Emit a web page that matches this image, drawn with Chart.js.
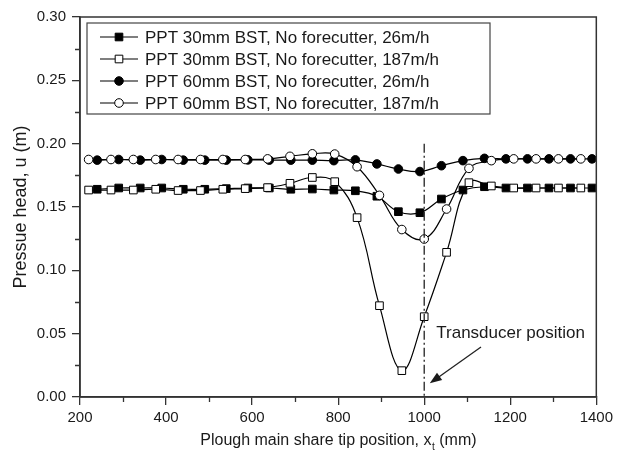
<!DOCTYPE html>
<html>
<head>
<meta charset="utf-8">
<title>Pressure head vs share tip position</title>
<script src="https://cdn.jsdelivr.net/npm/chart.js@4/dist/chart.umd.min.js"></script>
<style>
    html, body { margin: 0; padding: 0; background: #fff; }
    #wrap { width: 617px; height: 457px; }
</style>
</head>
<body>
<div id="wrap"><canvas id="chart" width="617" height="457"></canvas></div>
<script>
// tip positions (mm) logged for each travel speed
var xSlow = [240, 290, 340, 390, 440, 490, 540, 590, 640, 690, 740, 790, 840, 890, 940, 990, 1040, 1090, 1140, 1190, 1240, 1290, 1340, 1390];
var xFast = [220, 272, 324, 376, 428, 480, 532, 584, 636, 688, 740, 792, 844, 896, 948, 1000, 1052, 1104, 1156, 1208, 1260, 1312, 1364];

// pressure head u (m)
var bst30Slow = [0.164, 0.165, 0.165, 0.165, 0.164, 0.164, 0.1645, 0.165, 0.165, 0.164, 0.1642, 0.1634, 0.1628, 0.1585, 0.1463, 0.1455, 0.1563, 0.1634, 0.166, 0.165, 0.165, 0.165, 0.165, 0.165];
var bst30Fast = [0.1634, 0.1634, 0.1634, 0.164, 0.163, 0.163, 0.164, 0.1645, 0.1653, 0.1687, 0.1733, 0.170, 0.1416, 0.0721, 0.0208, 0.0634, 0.1142, 0.1692, 0.1666, 0.165, 0.165, 0.165, 0.165];
var bst60Slow = [0.187, 0.1875, 0.187, 0.1875, 0.187, 0.187, 0.187, 0.1872, 0.187, 0.187, 0.187, 0.1866, 0.1872, 0.184, 0.180, 0.178, 0.1826, 0.1866, 0.1884, 0.188, 0.188, 0.188, 0.188, 0.188];
var bst60Fast = [0.1875, 0.1875, 0.1875, 0.1875, 0.1875, 0.1875, 0.1875, 0.1875, 0.188, 0.190, 0.192, 0.1918, 0.1818, 0.1592, 0.1322, 0.1247, 0.1484, 0.1805, 0.1866, 0.188, 0.188, 0.188, 0.188];

var seriesNames = [
    'PPT 30mm BST, No forecutter, 26m/h',
    'PPT 30mm BST, No forecutter, 187m/h',
    'PPT 60mm BST, No forecutter, 26m/h',
    'PPT 60mm BST, No forecutter, 187m/h'
];

var transducerX = 1000;
var transducerLabel = 'Transducer position';
var xTitle = ['Plough main share tip position, x', 't', ' (mm)'];
var yTitle = 'Pressue head, u (m)';

var FONT = "'Liberation Sans', Arial, sans-serif";
var INK = '#1a1a1a';
var AXIS = '#333';

function pairs(xs, ys) {
    var out = [];
    for (var i = 0; i < xs.length; i++) out.push({ x: xs[i], y: ys[i] });
    return out;
}

function series(label, xs, ys, shape, filled, order) {
    return {
        label: label,
        data: pairs(xs, ys),
        borderColor: '#000',
        borderWidth: 1.2,
        pointStyle: shape,
        pointRadius: shape === 'rect' ? 5.4 : 4.3,
        pointBackgroundColor: filled ? '#000' : '#fff',
        pointBorderColor: '#000',
        pointBorderWidth: 1,
        tension: 0.4,
        fill: false,
        order: order
    };
}

// extra decoration: minor ticks, box frame, marker line, note, legend, titles
var decor = {
    id: 'decor',
    afterDatasetsDraw: function(chart) {
        var ctx = chart.ctx, a = chart.chartArea;
        var xs = chart.scales.x, ys = chart.scales.y;
        ctx.save();

        // dash-dot line at the transducer
        var tx = xs.getPixelForValue(transducerX);
        ctx.strokeStyle = '#222';
        ctx.lineWidth = 1.3;
        ctx.setLineDash([9, 3, 2, 3]);
        ctx.beginPath();
        ctx.moveTo(tx, ys.getPixelForValue(0.2));
        ctx.lineTo(tx, a.bottom);
        ctx.stroke();
        ctx.setLineDash([]);

        // note and arrow
        ctx.fillStyle = INK;
        ctx.font = '17px ' + FONT;
        ctx.textBaseline = 'middle';
        ctx.textAlign = 'left';
        ctx.fillText(transducerLabel, xs.getPixelForValue(1028), ys.getPixelForValue(0.0505));

        var x0 = xs.getPixelForValue(1132), y0 = ys.getPixelForValue(0.0395);
        var x1 = xs.getPixelForValue(1013), y1 = ys.getPixelForValue(0.0108);
        var ang = Math.atan2(y1 - y0, x1 - x0);
        ctx.lineWidth = 1.3;
        ctx.beginPath();
        ctx.moveTo(x0, y0);
        ctx.lineTo(x1 - 8 * Math.cos(ang), y1 - 8 * Math.sin(ang));
        ctx.stroke();
        ctx.beginPath();
        ctx.moveTo(x1, y1);
        ctx.lineTo(x1 - 12 * Math.cos(ang) + 4.5 * Math.sin(ang), y1 - 12 * Math.sin(ang) - 4.5 * Math.cos(ang));
        ctx.lineTo(x1 - 12 * Math.cos(ang) - 4.5 * Math.sin(ang), y1 - 12 * Math.sin(ang) + 4.5 * Math.cos(ang));
        ctx.closePath();
        ctx.fill();
        ctx.restore();
    },
    afterDraw: function(chart) {
        var ctx = chart.ctx, a = chart.chartArea;
        var xs = chart.scales.x, ys = chart.scales.y;
        ctx.save();
        ctx.strokeStyle = AXIS;
        ctx.lineWidth = 1.5;
        ctx.strokeRect(a.left, a.top, a.right - a.left, a.bottom - a.top);

        ctx.lineWidth = 1.3;
        ctx.beginPath();
        for (var v = 300; v < 1400; v += 200) {
            var px = Math.round(xs.getPixelForValue(v)) + 0.5;
            ctx.moveTo(px, a.bottom);
            ctx.lineTo(px, a.bottom + 5);
        }
        for (var k = 0; k < 6; k++) {
            var py = Math.round(ys.getPixelForValue(0.025 + k * 0.05)) + 0.5;
            ctx.moveTo(a.left, py);
            ctx.lineTo(a.left - 5, py);
        }
        ctx.stroke();

        // legend
        var lx = 87, ly = 23, lw = 403, rowH = 22;
        ctx.lineWidth = 1.2;
        ctx.strokeStyle = '#444';
        ctx.strokeRect(lx, ly, lw, rowH * 4 + 3);
        ctx.font = '17px ' + FONT;
        ctx.textBaseline = 'middle';
        ctx.textAlign = 'left';
        ctx.fillStyle = INK;
        for (var i = 0; i < 4; i++) {
            var ds = chart.data.datasets[i];
            var ry = ly + 14 + i * rowH;
            ctx.strokeStyle = '#000';
            ctx.lineWidth = 1.2;
            ctx.beginPath();
            ctx.moveTo(100, ry);
            ctx.lineTo(138, ry);
            ctx.stroke();
            ctx.fillStyle = ds.pointBackgroundColor;
            ctx.strokeStyle = '#000';
            ctx.lineWidth = 1;
            Chart.helpers.drawPoint(ctx, { pointStyle: ds.pointStyle, radius: ds.pointRadius, rotation: 0, borderWidth: 1 }, 119, ry);
            ctx.fillStyle = INK;
            ctx.fillText(ds.label, 145, ry + 1);
        }

        // axis titles
        ctx.fillStyle = INK;
        ctx.font = '16px ' + FONT;
        ctx.textBaseline = 'middle';
        var w0 = ctx.measureText(xTitle[0]).width;
        ctx.font = '10px ' + FONT;
        var w1 = ctx.measureText(xTitle[1]).width;
        ctx.font = '16px ' + FONT;
        var w2 = ctx.measureText(xTitle[2]).width;
        var cx = (a.left + a.right) / 2 - (w0 + w1 + w2) / 2;
        var ty = 441;
        ctx.textAlign = 'left';
        ctx.fillText(xTitle[0], cx, ty);
        ctx.font = '10px ' + FONT;
        ctx.fillText(xTitle[1], cx + w0 + 0.5, ty + 6);
        ctx.font = '16px ' + FONT;
        ctx.fillText(xTitle[2], cx + w0 + w1 + 0.5, ty);

        ctx.font = '18px ' + FONT;
        ctx.translate(21, (a.top + a.bottom) / 2);
        ctx.rotate(-Math.PI / 2);
        ctx.textAlign = 'center';
        ctx.fillText(yTitle, 0, 0);
        ctx.restore();
    }
};

var chart = new Chart(document.getElementById('chart'), {
    type: 'line',
    data: {
        datasets: [
            series(seriesNames[0], xSlow, bst30Slow, 'rect', true, 1),
            series(seriesNames[1], xFast, bst30Fast, 'rect', false, 0),
            series(seriesNames[2], xSlow, bst60Slow, 'circle', true, 1),
            series(seriesNames[3], xFast, bst60Fast, 'circle', false, 0)
        ]
    },
    options: {
        responsive: false,
        animation: false,
        devicePixelRatio: 1,
        layout: { padding: { left: 0, top: 17, right: 18, bottom: 0 } },
        plugins: {
            legend: { display: false },
            tooltip: { enabled: false }
        },
        scales: {
            x: {
                type: 'linear',
                min: 200,
                max: 1400,
                afterFit: function(s) { s.height = 60; },
                border: { display: true, color: AXIS, width: 1.5 },
                grid: { drawOnChartArea: false, drawTicks: true, tickLength: 8, color: AXIS, lineWidth: 1.3 },
                ticks: {
                    stepSize: 200,
                    maxRotation: 0,
                    padding: 4,
                    color: INK,
                    font: { family: FONT, size: 15 },
                    callback: function(v) { return String(v); }
                }
            },
            y: {
                type: 'linear',
                min: 0,
                max: 0.3,
                afterFit: function(s) { s.width = 80; },
                border: { display: true, color: AXIS, width: 1.5 },
                grid: { drawOnChartArea: false, drawTicks: true, tickLength: 8, color: AXIS, lineWidth: 1.3 },
                ticks: {
                    stepSize: 0.05,
                    padding: 6,
                    color: INK,
                    font: { family: FONT, size: 15 },
                    callback: function(v) { return v.toFixed(2); }
                }
            }
        }
    },
    plugins: [decor]
});
</script>
</body>
</html>
